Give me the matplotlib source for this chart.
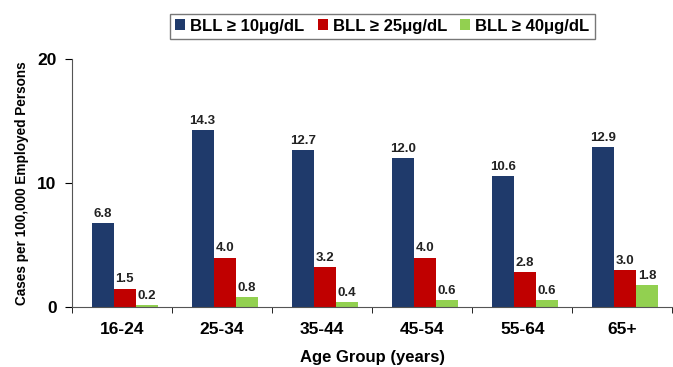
import matplotlib.pyplot as plt
import numpy as np

plt.rcParams['font.family'] = ['Liberation Sans', 'DejaVu Sans']

groups = ['16-24', '25-34', '35-44', '45-54', '55-64', '65+']
bll10 = [6.8, 14.3, 12.7, 12.0, 10.6, 12.9]
bll25 = [1.5, 4.0, 3.2, 4.0, 2.8, 3.0]
bll40 = [0.2, 0.8, 0.4, 0.6, 0.6, 1.8]
series_names = ['BLL ≥ 10μg/dL', 'BLL ≥ 25μg/dL', 'BLL ≥ 40μg/dL']
colors = ['#1F3A6B', '#C00000', '#92D050']

fig = plt.figure(figsize=(6.73, 3.67), dpi=100)
ax = fig.add_axes([0.107, 0.163, 0.892, 0.676])

x = np.arange(len(groups))
w = 0.22
for i, (vals, name, c) in enumerate(zip([bll10, bll25, bll40], series_names, colors)):
    pos = x + (i - 1) * w + 0.025
    ax.bar(pos, vals, w, color=c, label=name)
    for p, v in zip(pos, vals):
        ax.text(p, v + 0.25, f'{v:.1f}', ha='center', va='bottom',
                fontsize=9.5, fontweight='bold', color='#222222')

ax.set_xlim(-0.5, len(groups) - 0.5)
ax.set_ylim(0, 20)
ax.set_yticks([0, 10, 20])
ax.set_xticks(x)
ax.set_xticklabels(groups, fontsize=12.5, fontweight='bold')
ax.set_xticks(np.arange(-0.5, len(groups)), minor=True)
ax.tick_params(axis='x', which='major', length=0, pad=11)
ax.tick_params(axis='x', which='minor', length=4, direction='out')
ax.tick_params(axis='y', length=5, labelsize=12.5, pad=6)
for lab in ax.get_yticklabels():
    lab.set_fontweight('bold')
ax.spines['top'].set_visible(False)
ax.spines['right'].set_visible(False)
ax.spines['left'].set_color('#555555')
ax.spines['bottom'].set_color('#555555')

ax.set_ylabel('Cases per 100,000 Employed Persons', fontsize=9.8, fontweight='bold', labelpad=6)
ax.set_xlabel('Age Group (years)', fontsize=12, fontweight='bold', labelpad=9)

leg = fig.legend(loc='center', bbox_to_anchor=(0.568, 0.929), ncol=3,
                 prop={'weight': 'bold', 'size': 12}, frameon=True, fancybox=False,
                 handlelength=0.6, handleheight=0.6, handletextpad=0.3, columnspacing=0.8,
                 borderpad=0.3)
leg.get_frame().set_edgecolor('#555555')
leg.get_frame().set_linewidth(1.0)

fig.savefig('out.png', dpi=100)
